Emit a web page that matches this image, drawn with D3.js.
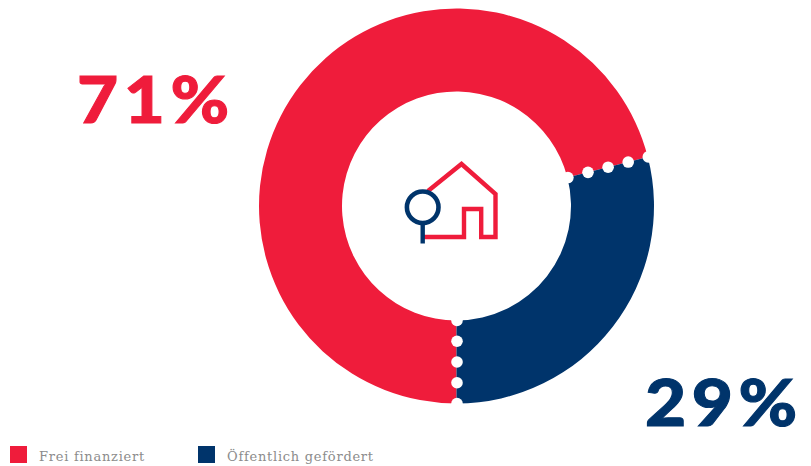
<!DOCTYPE html>
<html lang="de">
<head>
<meta charset="utf-8">
<script src="https://cdn.jsdelivr.net/npm/d3@7/dist/d3.min.js"></script>
<style>
html,body{margin:0;padding:0;background:#fff;}
svg{display:block;}
.pct{font-family:"Lato",sans-serif;font-weight:900;font-size:64px;letter-spacing:5px;stroke-width:1;}
.legend{font-family:"DejaVu Serif",serif;font-size:13px;fill:#8c8c8c;letter-spacing:.74px;}
</style>
</head>
<body>
<svg id="chart" width="811" height="466"></svg>
<script>
// Housing share: privately financed versus publicly subsidised
const categories = ["Frei finanziert", "Öffentlich gefördert"];
const shares = [71, 29];
const shareLabels = ["71%", "29%"];
const colors = ["#ef1c3b", "#00346b"];

const W = 811, H = 466;
const cx = 456.5, cy = 206, rOuter = 197.5, rInner = 114.5;
const svg = d3.select("#chart").attr("viewBox", [0, 0, W, H]);

const color = d3.scaleOrdinal().domain(categories).range(colors);

// Clockwise from the bottom: red runs up the left side, navy closes the circle
const pie = d3.pie().sort(null).startAngle(Math.PI).endAngle(3 * Math.PI);
const arcs = pie(shares);
const arc = d3.arc().innerRadius(rInner).outerRadius(rOuter);

const ring = svg.append("g").attr("transform", `translate(${cx},${cy})`);
ring.selectAll("path.slice")
  .data(arcs)
  .join("path")
  .attr("class", "slice")
  .attr("d", arc)
  .attr("fill", (d, i) => color(categories[i]));

// Dotted white seams along the two slice boundaries
const dotRadius = d3.scaleLinear().domain([0, 4]).range([rInner, rOuter]);
const seams = arcs.map(d => d.startAngle);
ring.selectAll("g.seam")
  .data(seams)
  .join("g")
  .attr("class", "seam")
  .attr("transform", "translate(0.5,0)")
  .selectAll("circle")
  .data(a => d3.range(5).map(i => d3.pointRadial(a, dotRadius(i))))
  .join("circle")
  .attr("cx", d => d[0])
  .attr("cy", d => d[1])
  .attr("r", 5.8)
  .attr("fill", "#fff");

// House and magnifier pictogram in the hole of the ring
const icon = svg.append("g").attr("fill", "none").attr("stroke-width", 4.4);
icon.append("path")
  .attr("d", "M423 237H464V209H481.2V237H495.5V194L461.5 164L428 191")
  .attr("stroke", colors[0]);
icon.append("line")
  .attr("x1", 422.7).attr("x2", 422.7).attr("y1", 222).attr("y2", 243.5)
  .attr("stroke", colors[1]);
icon.append("circle")
  .attr("cx", 422.7).attr("cy", 207.3).attr("r", 15.8)
  .attr("fill", "#fff").attr("stroke", colors[1]).attr("stroke-width", 4.6);

// Big percentage figures, widened a little and thickened with a stroke
svg.append("text").attr("class", "pct")
  .attr("transform", "translate(77,123) scale(1.11,1)")
  .attr("fill", colors[0]).attr("stroke", colors[0]).text(shareLabels[0]);
svg.append("text").attr("class", "pct")
  .attr("transform", "translate(645,426) scale(1.11,1)")
  .attr("fill", colors[1]).attr("stroke", colors[1]).text(shareLabels[1]);

// Legend row along the bottom edge
const legendX = d3.scaleOrdinal().domain(categories).range([10, 198]);
const legend = svg.selectAll("g.key")
  .data(categories)
  .join("g")
  .attr("class", "key")
  .attr("transform", d => `translate(${legendX(d)},446)`);
legend.append("rect").attr("width", 17).attr("height", 17).attr("fill", d => color(d));
legend.append("text").attr("class", "legend").attr("x", 29).attr("y", 14.5).text(d => d);
</script>
</body>
</html>
